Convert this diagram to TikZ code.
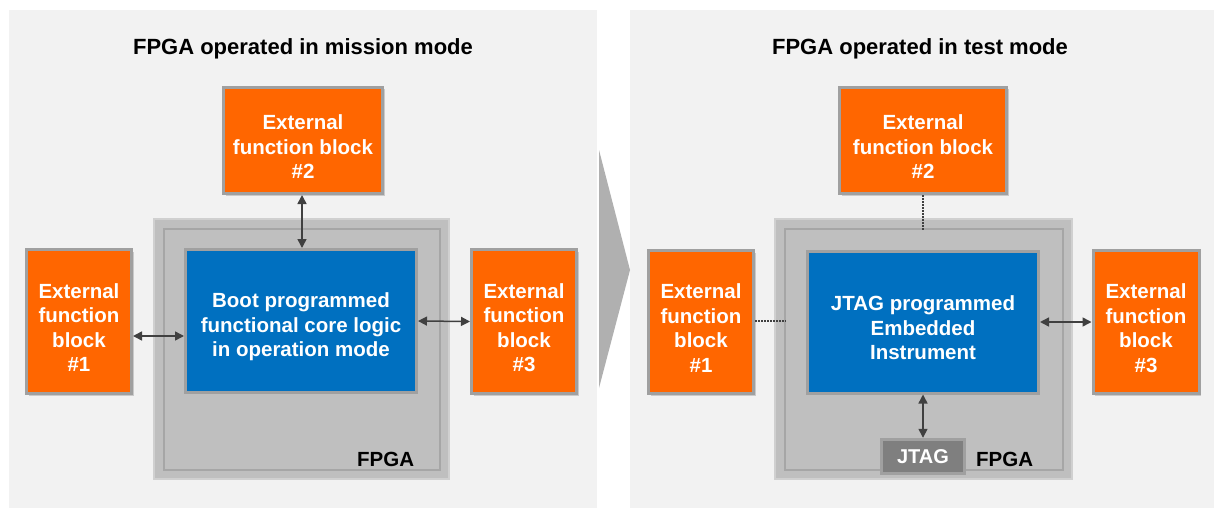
\documentclass[tikz,border=0pt]{standalone}
\usepackage{fontspec}
\setmainfont{Liberation Sans}
\usetikzlibrary{arrows.meta,shadows}
\definecolor{panelbg}{HTML}{F2F2F2}
\definecolor{fpgafill}{HTML}{BFBFBF}
\definecolor{fpgaline}{HTML}{A6A6A6}
\definecolor{fpgalight}{HTML}{D0D0D0}
\definecolor{orangefill}{HTML}{FF6600}
\definecolor{boxline}{HTML}{A0A0A0}
\definecolor{bluefill}{HTML}{0070C0}
\definecolor{arrowcol}{HTML}{404040}
\definecolor{chevron}{HTML}{B0B0B0}
\definecolor{jtagfill}{HTML}{7F7F7F}
\newcommand\tdrop{\rule{0pt}{27pt}}
\tikzset{
  panel/.style={fill=panelbg, draw=none},
  fpgaouter/.style={fill=fpgafill, draw=fpgalight, line width=1.5pt},
  fpgainner/.style={draw=fpgaline, line width=1.5pt},
  extblock/.style={fill=orangefill, draw=boxline, line width=3pt,
     drop shadow={shadow xshift=2pt, shadow yshift=-2pt, opacity=0.35},
     text=white, font=\bfseries\fontsize{20.5}{24.5}\selectfont, align=center,
     inner sep=0pt},
  coreblock/.style={fill=bluefill, draw=boxline, line width=3pt,
     text=white, font=\bfseries\fontsize{20.5}{24.5}\selectfont, align=center,
     inner sep=0pt},
  title/.style={font=\bfseries\fontsize{22}{26}\selectfont, text=black},
  fpgalabel/.style={font=\bfseries\fontsize{20.5}{24}\selectfont, text=black, inner sep=0pt},
  biarrow/.style={draw=arrowcol, line width=1.5pt, {Triangle[length=9pt,width=9pt]}-{Triangle[length=9pt,width=9pt]}},
  dotline/.style={draw=arrowcol, line width=1.5pt, dash pattern=on 1.5pt off 1.5pt},
}
\begin{document}
\begin{tikzpicture}[x=1pt,y=-1pt]
\useasboundingbox (0,0) rectangle (1214,508);
\fill[white] (0,0) rectangle (1214,508);
% panels
\path[panel] (9,10) rectangle (597,508);
\path[panel] (630,10) rectangle (1214,508);
% chevron
\fill[chevron] (599,150) -- (630,270) -- (599,388) -- cycle;

% ---------------- left panel ----------------
\node[title] (t1) at (303,49) {FPGA operated in mission mode};
\path[fpgaouter] (154,219) rectangle (449,479);
\path[fpgainner] (164,229) rectangle (440,470);
\node[coreblock, minimum width=231pt, minimum height=143pt] (core1) at (301,321)
  {\tdrop Boot programmed\\functional core logic\\in operation mode};
\node[extblock, minimum width=159pt, minimum height=106pt] (e2l) at (303,140.5)
  {\tdrop External\\function block\\\#2};
\node[extblock, minimum width=105pt, minimum height=144pt] (e1l) at (79,321.5)
  {\tdrop External\\function\\block\\\#1};
\node[extblock, minimum width=105pt, minimum height=144pt] (e3l) at (524,321.5)
  {\tdrop External\\function\\block\\\#3};
\node[fpgalabel, anchor=base west] (f1) at (357,466) {FPGA};
\coordinate (y1) at (0,336);
\coordinate (x2) at (302,0);
\draw[biarrow] (e1l.east |- y1) -- (core1.west |- y1);
\draw[biarrow] (e3l.west) -- (core1.east);
\draw[biarrow] (e2l.south -| x2) -- (core1.north -| x2);

% ---------------- right panel ----------------
\node[title] (t2) at (920,49) {FPGA operated in test mode};
\path[fpgaouter] (775,219) rectangle (1072,479);
\path[fpgainner] (785,229) rectangle (1063,470);
\node[coreblock, minimum width=231pt, minimum height=142pt] (core2) at (923,322)
  {\tdrop JTAG programmed\\Embedded\\Instrument};
\node[extblock, minimum width=167pt, minimum height=106pt] (e2r) at (923,140.5)
  {\tdrop External\\function block\\\#2};
\node[extblock, minimum width=105pt, minimum height=143pt] (e1r) at (701,322)
  {\tdrop External\\function\\block\\\#1};
\node[extblock, minimum width=106pt, minimum height=143pt] (e3r) at (1146,322)
  {\tdrop External\\function\\block\\\#3};
\node[fill=boxline, minimum width=86pt, minimum height=37pt, inner sep=0pt] (jtagbg) at (923,456.5) {};
\node[fill=jtagfill, minimum width=80pt, minimum height=31pt, inner sep=0pt,
      text=white, font=\bfseries\fontsize{20}{24}\selectfont] (jtag) at (923,456.5) {JTAG};
\node[fpgalabel, anchor=base west] (f2) at (976,466) {FPGA};
\coordinate (d1e) at (786,321);
\draw[dotline] (e1r.east |- d1e) -- (d1e);
\coordinate (d2e) at (923,231);
\draw[dotline] (e2r.south) -- (d2e);
\draw[biarrow] (e3r.west |- core2.east) -- (core2.east);
\draw[biarrow] (core2.south) -- (jtagbg.north);
\end{tikzpicture}
\end{document}
